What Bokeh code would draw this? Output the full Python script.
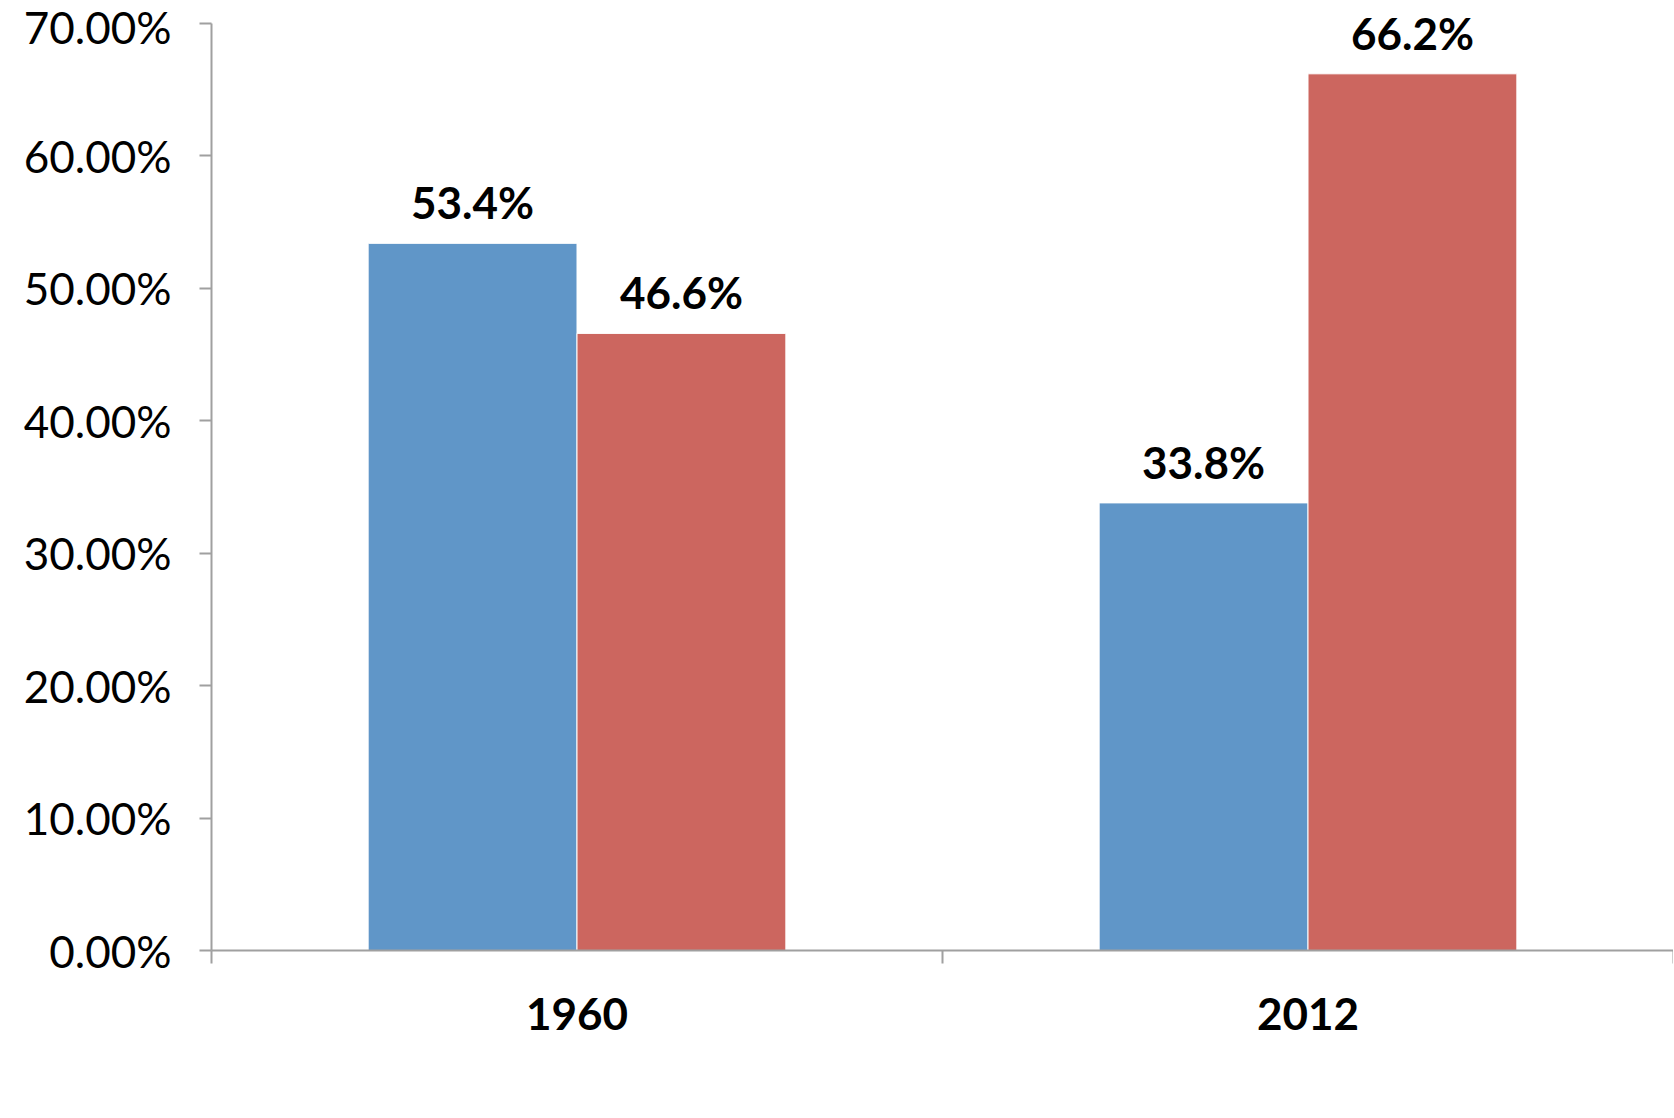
from bokeh.plotting import figure
from bokeh.models import (ColumnDataSource, Range1d, LinearAxis, FixedTicker,
                          PrintfTickFormatter, LabelSet, Legend, LegendItem)
from bokeh.core.properties import value
from bokeh.transform import dodge
from bokeh.embed import file_html
from bokeh.resources import INLINE

years = ["1960", "2012"]
goods = [53.4, 33.8]
services = [46.6, 66.2]
y_ticks = [0, 10, 20, 30, 40, 50, 60, 70]

BLUE = "#6096C8"
RED = "#CC665F"
AXIS = "#A0A0A0"
FONT = "Lato"

# category slots: slot i spans [i, i+1], centre at i + 0.5
pos = [i + 0.5 for i in range(len(years))]

src = ColumnDataSource(dict(
    pos=pos,
    goods=goods,
    services=services,
    goods_lbl=[f"{v:.1f}%" for v in goods],
    services_lbl=[f"{v:.1f}%" for v in services],
))

# frame: top of canvas to the x axis; 70% sits 23px below the frame top
FRAME_H = 950
FRAME_W = 1462
Y_TOP = 70 * FRAME_H / (FRAME_H - 23)

p = figure(frame_width=FRAME_W, frame_height=FRAME_H, output_backend="svg",
           toolbar_location=None,
           x_range=Range1d(0, len(years)), y_range=Range1d(0, Y_TOP), x_axis_location=None,
           min_border_left=211, min_border_right=0, min_border_top=0, min_border_bottom=0)
p.outline_line_color = None
p.grid.grid_line_color = None

bw = 1 / 3.5
g = p.vbar(x=dodge("pos", -bw / 2), top="goods", width=bw, source=src,
           fill_color=BLUE, line_color="white", line_width=1)
s = p.vbar(x=dodge("pos", bw / 2), top="services", width=bw, source=src,
           fill_color=RED, line_color="white", line_width=1)

for col, off in (("goods", -bw / 2), ("services", bw / 2)):
    p.add_layout(LabelSet(x=dodge("pos", off), y=col, text=col + "_lbl",
                          source=src, text_align="center", text_baseline="alphabetic",
                          y_offset=24, text_font=value(FONT), text_font_style="bold",
                          text_font_size="44px", text_color="black"))

# y axis
ya = p.yaxis[0]
ya.bounds = (0, 70)
ya.ticker = FixedTicker(ticks=y_ticks)
ya.formatter = PrintfTickFormatter(format="%.2f%%")
ya.axis_line_color = AXIS
ya.axis_line_width = 2
ya.major_tick_line_color = AXIS
ya.major_tick_line_width = 2
ya.major_tick_in = 0
ya.major_tick_out = 12
ya.minor_tick_line_color = None
ya.major_label_standoff = 28
ya.major_label_text_font = FONT
ya.major_label_text_font_size = "44px"
ya.major_label_text_color = "black"

# x axis: category boundaries as ticks, category names centred
xa = LinearAxis(ticker=FixedTicker(ticks=pos, minor_ticks=list(range(len(years) + 1))),
                major_label_overrides={x: y for x, y in zip(pos, years)})
xa.axis_line_color = AXIS
xa.axis_line_width = 2
xa.major_tick_line_color = None
xa.major_tick_out = 0
xa.major_tick_in = 0
xa.minor_tick_line_color = AXIS
xa.minor_tick_line_width = 2
xa.minor_tick_in = 0
xa.minor_tick_out = 13
xa.major_label_standoff = 34
xa.major_label_text_font = FONT
xa.major_label_text_font_style = "bold"
xa.major_label_text_font_size = "44px"
xa.major_label_text_color = "black"
xa.axis_label = " "
xa.axis_label_standoff = 0
xa.axis_label_text_font_size = "20px"
p.add_layout(xa, "below")

legend = Legend(items=[LegendItem(label="Goods", renderers=[g]),
                       LegendItem(label="Services", renderers=[s])],
                orientation="horizontal", location="center",
                glyph_width=29, glyph_height=29, label_standoff=8, spacing=38,
                padding=0, margin=0, border_line_color=None, background_fill_alpha=0,
                label_text_font=FONT, label_text_font_size="42px", label_text_color="black")
p.add_layout(legend, "below")

open("out.html", "w").write(file_html(p, INLINE))
